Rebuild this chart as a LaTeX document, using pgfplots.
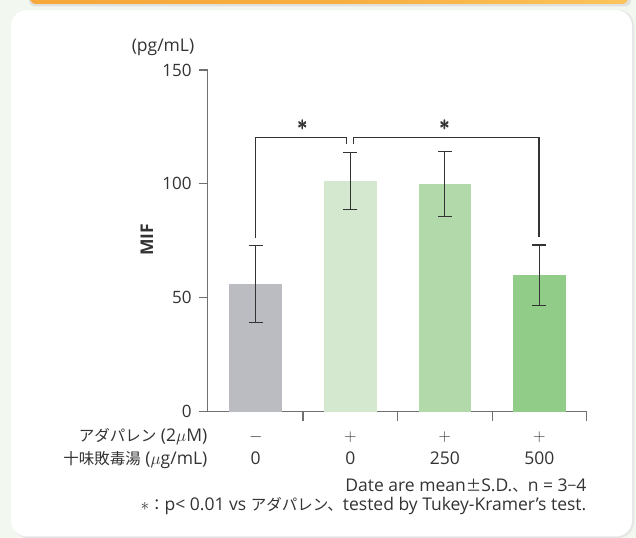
\documentclass[border=0pt]{standalone}
\usepackage{fontspec}
\setmainfont{Open Sans}
\newfontfamily\jp{Noto Sans CJK JP}
\usepackage{pgfplots}
\pgfplotsset{compat=1.18}
\definecolor{bg}{HTML}{F2F7EF}
\definecolor{barA}{HTML}{BBBCC1}
\definecolor{barB}{HTML}{D3E8CF}
\definecolor{barC}{HTML}{B1D9A9}
\definecolor{barD}{HTML}{92CC89}
\definecolor{axisgray}{HTML}{707070}
\definecolor{errc}{HTML}{333333}
\definecolor{txt}{HTML}{333333}
\definecolor{orangeA}{HTML}{F6A83A}
\definecolor{orangeB}{HTML}{FBC45A}
\newcommand{\J}[1]{{\jp\fontsize{15.5bp}{18bp}\selectfont #1}}
\begin{document}
\fontsize{17.5bp}{20bp}\selectfont
\begin{tikzpicture}[x=1bp,y=1bp]
\useasboundingbox (0,0) rectangle (636,538);
\fill[bg] (0,0) rectangle (636,538);
% orange band at top with shadow
\fill[black!12, rounded corners=6bp] (29,531.5) rectangle (631,550);
\shade[left color=orangeA, right color=orangeB, middle color=orangeA!80!orangeB, rounded corners=6bp] (30,534) rectangle (628,550);
% panel with shadow
\fill[black!10, rounded corners=16bp] (12,0) rectangle (634,528);
\fill[white, rounded corners=16bp] (11,1.5) rectangle (632,528);
\begin{axis}[
  at={(207.5bp,126.3bp)}, anchor=south west,
  scale only axis, width=379.2bp, height=341.7bp,
  xmin=-0.51, xmax=3.5, ymin=0, ymax=150,
  axis x line*=bottom, axis y line*=left,
  axis line style={axisgray, line width=1.1bp, -},
  xtick={0.5,1.5,2.5,3.5}, xticklabels={},
  x tick style={axisgray, line width=1.1bp},
  ytick={0,50,100,150},
  y tick style={axisgray, line width=1.1bp},
  major tick length=9bp, tick align=outside,
  /pgf/number format/assume math mode=true,
  yticklabel style={font=\fontsize{17bp}{19bp}\selectfont, text=txt, xshift=-1bp},
  clip=false,
  error bars/error bar style={line width=1.2bp, errc},
  error bars/error mark options={rotate=90, mark size=7bp, line width=1.2bp, errc},
]
\addplot[ybar, bar shift=0pt, bar width=52.7bp, fill=barA, draw=none,
  error bars/.cd, y dir=both, y explicit] coordinates {(0,56.1) +- (0,16.8)};
\addplot[ybar, bar shift=0pt, bar width=52.7bp, fill=barB, draw=none,
  error bars/.cd, y dir=both, y explicit] coordinates {(1,101.3) +- (0,12.6)};
\addplot[ybar, bar shift=0pt, bar width=52.7bp, fill=barC, draw=none,
  error bars/.cd, y dir=both, y explicit] coordinates {(2,99.9) +- (0,14.3)};
\addplot[ybar, bar shift=0pt, bar width=52.7bp, fill=barD, draw=none,
  error bars/.cd, y dir=both, y explicit] coordinates {(3,59.9) +- (0,13.3)};
% significance brackets
\addplot[sharp plot, errc, line width=1.1bp, mark=none] coordinates {(0,76.1) (0,120.5) (0.964,120.5) (0.964,117.4)};
\addplot[sharp plot, errc, line width=1.1bp, mark=none] coordinates {(1.034,117.4) (1.034,120.5) (2.995,120.5) (2.995,76.9)};
\end{axis}
% significance stars (overlaid for a bolder glyph)
\foreach \dx/\dy in {0/0, 0.45/0, 0/0.45, 0.45/0.45}{
  \node[font=\fontsize{21bp}{21bp}\selectfont, text=errc, inner sep=0pt] at (302.2+\dx,412.4+\dy) {$\ast$};
  \node[font=\fontsize{21bp}{21bp}\selectfont, text=errc, inner sep=0pt] at (444.4+\dx,412.4+\dy) {$\ast$};
}
% column labels
\node[text=txt, anchor=base] at (255.7,96) {$-$};
\node[text=txt, anchor=base] at (350.3,96) {$+$};
\node[text=txt, anchor=base] at (444.9,96) {$+$};
\node[text=txt, anchor=base] at (539.4,96) {$+$};
\node[text=txt, anchor=base] at (255.7,73.5) {0};
\node[text=txt, anchor=base] at (350.3,73.5) {0};
\node[text=txt, anchor=base] at (444.9,73.5) {250};
\node[text=txt, anchor=base] at (539.4,73.5) {500};
\node[anchor=base east, text=txt, inner sep=0pt] at (207.5,96) {\J{アダパレン} (2$\mu$M)};
\node[anchor=base east, text=txt, inner sep=0pt] at (207.5,73.5) {\J{十味敗毒湯} ($\mu$g/mL)};
\node[anchor=base east, text=txt, inner sep=0pt] at (586.5,46) {Date are mean\J{±}S.D.\J{、}n = 3\J{−}4};
\node[anchor=base east, text=txt, inner sep=0pt] at (586.5,27.8) {$\ast$\J{：}p< 0.01 vs \J{アダパレン、}tested by Tukey-Kramer’s test.};
\node[text=txt] at (163,491) {(pg/mL)};
\node[rotate=90, text=txt, font=\bfseries] at (147,298) {MIF};
\end{tikzpicture}
\end{document}
